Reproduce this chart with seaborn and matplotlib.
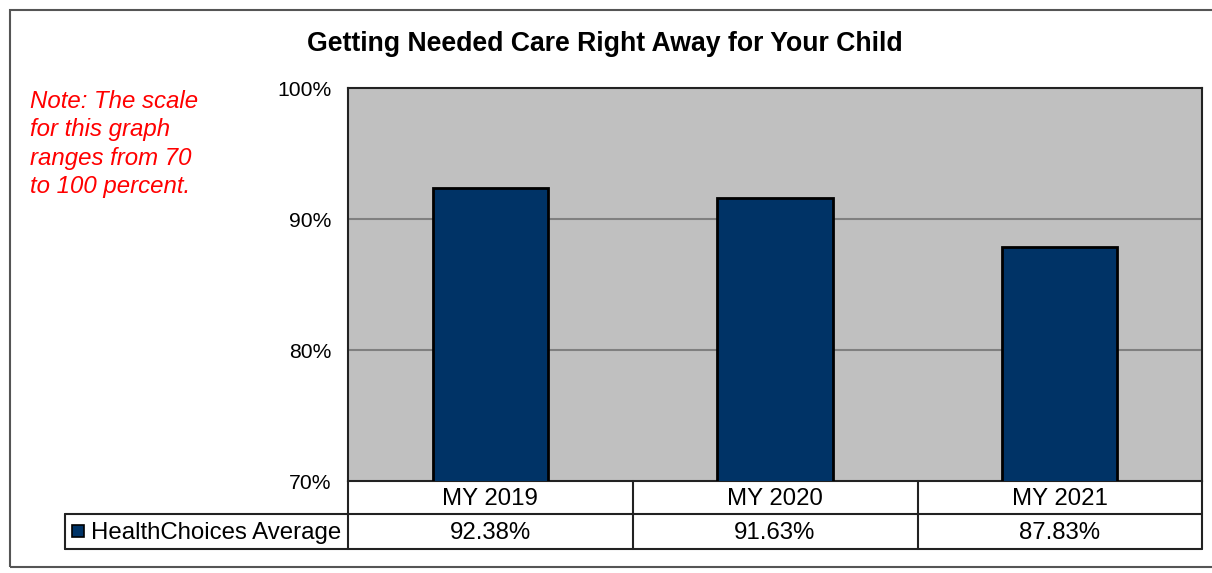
import matplotlib
matplotlib.use("Agg")
import matplotlib.pyplot as plt
from matplotlib.lines import Line2D
from matplotlib.patches import Rectangle
import seaborn as sns
import pandas as pd

categories = ["MY 2019", "MY 2020", "MY 2021"]
values = [92.38, 91.63, 87.83]
series_name = "HealthChoices Average"
value_labels = ["92.38%", "91.63%", "87.83%"]
yticks = [70, 80, 90, 100]
ytick_labels = ["70%", "80%", "90%", "100%"]
title = "Getting Needed Care Right Away for Your Child"
note = "Note: The scale\nfor this graph\nranges from 70\nto 100 percent."

sns.set_theme(style="white")
plt.rcParams["font.family"] = ["Liberation Sans", "DejaVu Sans"]
plt.rcParams["text.color"] = "black"
plt.rcParams["ytick.color"] = "black"
plt.rcParams["ytick.labelcolor"] = "black"

W, H = 1212, 573
fig = plt.figure(figsize=(W / 100, H / 100), dpi=100)

def fx(x):
    return x / W

def fy(y):
    return 1 - y / H

# axes: x 348..1202, y 88..481
ax = fig.add_axes([fx(348), fy(481), fx(1202) - fx(348), fy(88) - fy(481)])
df = pd.DataFrame({"cat": categories, "val": values})
navy = "#003366"
sns.barplot(data=df, x="cat", y="val", color=navy, width=0.405, ax=ax,
            edgecolor="black", linewidth=2, saturation=1, zorder=3)
ax.set_facecolor("#C0C0C0")
ax.set_ylim(70, 100)
ax.set_xlim(-0.5, 2.5)
ax.set_yticks(yticks)
ax.set_yticklabels(ytick_labels, fontsize=15.2, color="black")
ax.tick_params(axis="y", length=0, pad=12)
ax.set_xticks([])
ax.set_xlabel("")
ax.set_ylabel("")
for y in [80, 90]:
    ax.axhline(y, color="#808080", lw=1.5, zorder=1)
for s in ax.spines.values():
    s.set_visible(True)
    s.set_color("#222222")
    s.set_linewidth(1.5)

# title and note
fig.text(fx(605), fy(44), title, ha="center", va="center", fontsize=19.2,
         fontweight="bold", color="black")
fig.text(fx(30), fy(90), note, ha="left", va="top", fontsize=17.3, style="italic",
         color="#FF0000", linespacing=1.3)

# data table
lc = "#222222"
def hline(x0, x1, y):
    fig.add_artist(Line2D([fx(x0), fx(x1)], [fy(y), fy(y)], color=lc, lw=1.5))
def vline(x, y0, y1):
    fig.add_artist(Line2D([fx(x), fx(x)], [fy(y0), fy(y1)], color=lc, lw=1.5))

hline(65, 1202, 514)
hline(65, 1202, 549)
vline(65, 514, 549)
vline(348, 481, 549)
vline(633, 481, 549)
vline(918, 481, 549)
vline(1202, 481, 549)

xt = ax.get_xaxis_transform()
for i, (c, v) in enumerate(zip(categories, value_labels)):
    ax.text(i, -(499 - 481) / 393, c, transform=xt, ha="center", va="center",
            fontsize=17.3, color="black", clip_on=False)
    ax.text(i, -(533 - 481) / 393, v, transform=xt, ha="center", va="center",
            fontsize=17.3, color="black", clip_on=False)

fig.add_artist(Rectangle((fx(72), fy(537)), fx(84) - fx(72), fy(525) - fy(537),
                         facecolor=navy, edgecolor="black", lw=1.2))
fig.text(fx(91), fy(533), series_name, ha="left", va="center", fontsize=17.3,
         color="black")

# outer frame
fig.add_artist(Rectangle((fx(10), fy(567)), fx(1215) - fx(10), fy(10) - fy(567),
                         facecolor="none", edgecolor="#555555", lw=1.5))

fig.savefig("out.png", dpi=100, facecolor="white")
